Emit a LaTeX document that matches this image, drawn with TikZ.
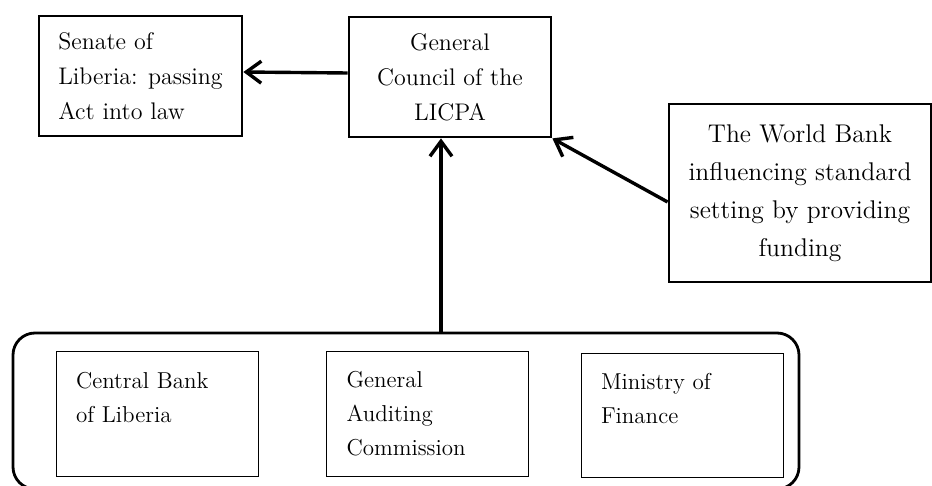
\documentclass[tikz,border=0pt]{standalone}
\usepackage{tikz}
\usetikzlibrary{positioning,arrows.meta}

\begin{document}
\begin{tikzpicture}[
  x=0.5pt, y=-0.5pt,
  box/.style={draw, line width=1.4pt, align=center, minimum height=60pt,
    font=\fontsize{12}{17.5}\selectfont},
  inbox/.style={draw, line width=0.5pt, align=left, text width=81pt,
    inner sep=10pt, minimum height=60pt, font=\fontsize{11.5}{17}\selectfont},
  arr/.style={-{Straight Barb[length=7.5pt,width=11pt]}, line width=1.7pt}
]
\useasboundingbox (0,0) rectangle (932,486);

\node[box, minimum width=101.5pt, align=left] (senate) at (140.5,76) {Senate of\\Liberia: passing\\Act into law};
\node[box, minimum width=101pt] (council) at (450,77) {General\\Council of the\\LICPA};
\node[box, minimum width=131pt, minimum height=89pt,
  font=\fontsize{12.8}{19}\selectfont] (wb) at (800,193) {The World Bank\\influencing standard\\setting by providing\\funding};

% regulators group
\node[draw, line width=1.4pt, rounded corners=11pt, minimum width=393pt,
  minimum height=78pt] (bodies) at (406,411) {};
\node[inbox] (cbl) at (157,414) {Central Bank\\of Liberia\\\mbox{}};
\node[inbox] (gac) at (427.5,414) {General\\Auditing\\Commission};
\node[inbox] (mof) at (682,415.5) {Ministry of\\Finance\\\mbox{}};

\coordinate (feed) at (441,333);

\draw[arr] ([yshift=2pt]council.west) -- ([yshift=2pt]senate.east);
\draw[arr] ([yshift=-4.5pt]wb.west) -- (council.south east);
\draw[arr] (feed) -- (feed |- council.south);
\end{tikzpicture}
\end{document}
